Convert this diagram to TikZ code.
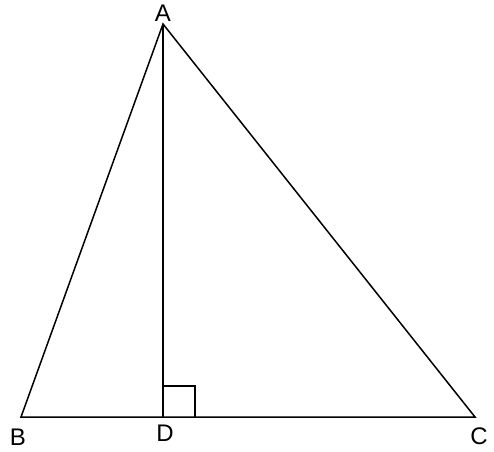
\documentclass[tikz,border=0pt]{standalone}
\usepackage{fontspec}
\setmainfont{Liberation Sans}
\begin{document}
\begin{tikzpicture}[x=1pt,y=-1pt,
  edge/.style={line width=1.5pt,black},
  lbl/.style={inner sep=0pt,font=\fontsize{24}{24}\selectfont}]
\useasboundingbox (0,0) rectangle (494,451);
\coordinate (A) at (163,24);
\coordinate (B) at (21,417);
\coordinate (C) at (475,417);
\coordinate (D) at (163,417);
\coordinate (E) at (163,386);
\coordinate (F) at (195,386);
\coordinate (G) at (195,417);
\draw[edge,line join=miter] (A) -- (B) -- (C) -- cycle;
\draw[edge] (A) -- (D);
\draw[edge] (E) -- (F) -- (G);
\node[lbl] (lA) at (163,13) {A};
\node[lbl] (lB) at (18,437) {B};
\node[lbl] (lD) at (165,433) {D};
\node[lbl] (lC) at (479,436) {C};
\end{tikzpicture}
\end{document}
